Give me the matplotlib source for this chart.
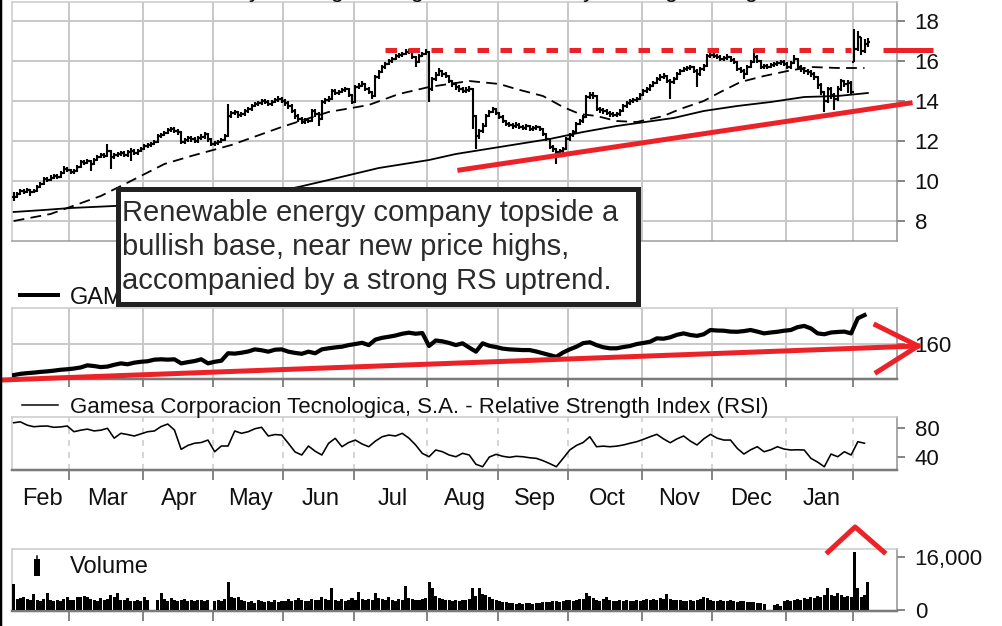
import matplotlib
matplotlib.use("Agg")
import matplotlib.pyplot as plt
import matplotlib.transforms as mtransforms
from matplotlib.lines import Line2D
from matplotlib.patches import Rectangle
import numpy as np

# ---------------- data ----------------
months = ["Feb", "Mar", "Apr", "May", "Jun", "Jul", "Aug", "Sep", "Oct", "Nov", "Dec", "Jan"]
month_starts = [0, 17, 39, 60, 81, 102, 124, 145, 166, 188, 209, 231, 251]  # trading-day index of month starts

closes = [
    9.2, 9.35, 9.5, 9.45, 9.55, 9.45, 9.5, 9.7, 9.85, 10.1,
    10.05, 10.15, 10.25, 10.2, 10.4, 10.6, 10.55, 10.45, 10.5, 10.7,
    10.95, 10.9, 11.0, 10.85, 11.05, 11.2, 11.3, 11.25, 11.5, 11.2,
    11.3, 11.35, 11.4, 11.3, 11.45, 11.5, 11.4, 11.5, 11.6, 11.75,
    11.8, 11.85, 11.95, 12.25, 12.3, 12.4, 12.55, 12.6, 12.5, 12.45,
    11.95, 12.05, 12.15, 12.1, 12.0, 12.15, 12.2, 12.35, 12.1, 11.85,
    11.9, 11.95, 12.05, 12.25, 13.25, 13.4, 13.45, 13.3, 13.35, 13.5,
    13.6, 13.75, 13.85, 13.9, 14.0, 13.95, 13.85, 13.95, 14.05, 14.1,
    14.0, 13.9, 13.75, 13.5, 13.25, 13.1, 12.95, 13.05, 13.0, 13.5,
    13.35, 13.1, 13.95, 14.05, 14.1, 14.5, 14.4, 14.45, 14.55, 14.6,
    14.3, 13.95, 14.7, 14.75, 14.85, 14.6, 14.45, 14.25, 15.2, 15.45,
    15.7, 15.85, 16.0, 16.1, 16.25, 16.3, 16.35, 16.45, 16.5, 16.2,
    15.95, 16.25, 16.35, 16.45, 14.6, 15.1, 15.3, 15.5, 15.35, 15.25,
    15.0, 14.85, 14.7, 14.6, 14.5, 14.55, 14.6, 13.25, 12.25, 12.5,
    12.75, 13.25, 13.45, 13.6, 13.4, 13.2, 13.0, 12.85, 12.8, 12.75,
    12.8, 12.7, 12.65, 12.75, 12.6, 12.65, 12.7, 12.6, 12.35, 12.1,
    11.7, 11.6, 11.45, 11.5, 11.6, 12.1, 12.3, 12.45, 12.85, 13.0,
    13.2, 14.2, 14.3, 14.25, 13.6, 13.55, 13.5, 13.4, 13.35, 13.3,
    13.35, 13.5, 13.75, 13.9, 14.0, 14.05, 14.1, 14.3, 14.5, 14.6,
    14.75, 14.9, 15.1, 15.2, 15.25, 15.0, 14.95, 15.1, 15.35, 15.5,
    15.6, 15.65, 15.7, 15.5, 15.35, 15.6, 15.75, 16.25, 16.3, 16.25,
    16.2, 16.1, 16.15, 16.2, 16.05, 15.95, 15.6, 15.5, 15.35, 15.7,
    15.95, 16.2, 16.0, 15.7, 15.75, 15.7, 15.8, 15.85, 15.9, 15.95,
    15.85, 15.7, 15.9, 16.1, 15.7, 15.6, 15.5, 15.45, 15.35, 15.2,
    14.8, 14.45, 14.0, 14.6, 14.3, 14.1, 14.6, 15.0, 14.85, 14.9,
    14.45, 16.6, 17.2, 16.5, 16.85, 16.95]

highs = [
    9.45, 9.45, 9.6, 9.6, 9.65, 9.6, 9.6, 9.8, 9.95, 10.2,
    10.2, 10.3, 10.35, 10.35, 10.5, 10.75, 10.7, 10.6, 10.6, 10.8,
    11.05, 11.05, 11.1, 11.05, 11.15, 11.3, 11.4, 11.4, 11.85, 11.55,
    11.4, 11.45, 11.5, 11.5, 11.55, 11.65, 11.6, 11.6, 11.7, 11.85,
    11.9, 11.95, 12.05, 12.35, 12.4, 12.5, 12.65, 12.7, 12.7, 12.6,
    12.5, 12.15, 12.25, 12.25, 12.2, 12.25, 12.35, 12.45, 12.4, 12.15,
    12.0, 12.05, 12.15, 12.35, 13.85, 13.5, 13.55, 13.5, 13.45, 13.6,
    13.7, 13.85, 13.95, 14.0, 14.1, 14.1, 14.05, 14.05, 14.15, 14.25,
    14.2, 14.1, 14.0, 13.85, 13.6, 13.35, 13.2, 13.15, 13.15, 13.6,
    13.6, 13.45, 14.05, 14.15, 14.25, 14.6, 14.6, 14.55, 14.65, 14.7,
    14.65, 14.35, 14.8, 14.9, 15.0, 14.9, 14.7, 14.5, 15.3, 15.55,
    15.8, 15.95, 16.1, 16.2, 16.35, 16.4, 16.45, 16.6, 16.6, 16.55,
    16.25, 16.35, 16.45, 16.6, 16.5, 15.2, 15.45, 15.65, 15.55, 15.45,
    15.3, 15.05, 14.95, 14.8, 14.7, 14.7, 14.75, 14.65, 13.3, 12.6,
    12.9, 13.35, 13.55, 13.7, 13.65, 13.45, 13.3, 13.05, 12.95, 12.9,
    12.95, 12.9, 12.8, 12.85, 12.8, 12.75, 12.8, 12.75, 12.65, 12.4,
    12.15, 11.8, 11.65, 11.6, 11.7, 12.2, 12.4, 12.55, 12.95, 13.1,
    13.3, 14.3, 14.45, 14.45, 14.3, 13.7, 13.65, 13.6, 13.5, 13.45,
    13.45, 13.6, 13.85, 14.0, 14.1, 14.15, 14.2, 14.4, 14.6, 14.7,
    14.85, 15.0, 15.2, 15.35, 15.4, 15.3, 15.1, 15.2, 15.45, 15.6,
    15.7, 15.75, 15.8, 15.75, 15.6, 15.7, 15.85, 16.35, 16.45, 16.4,
    16.35, 16.3, 16.25, 16.35, 16.25, 16.15, 16.0, 15.7, 15.6, 15.8,
    16.05, 16.6, 16.3, 16.05, 15.85, 15.85, 15.9, 15.95, 16.0, 16.05,
    16.05, 15.95, 16.0, 16.3, 16.15, 15.8, 15.7, 15.6, 15.55, 15.45,
    15.25, 14.9, 14.5, 14.7, 14.7, 14.4, 14.75, 15.1, 15.05, 15.05,
    15.0, 17.6, 17.5, 17.2, 17.1, 17.15]

lows = [
    9.0, 9.15, 9.3, 9.35, 9.4, 9.25, 9.4, 9.45, 9.65, 9.8,
    9.95, 10.0, 10.1, 10.1, 10.15, 10.35, 10.45, 10.35, 10.35, 10.45,
    10.65, 10.8, 10.85, 10.5, 10.8, 11.0, 11.15, 11.15, 11.2, 10.6,
    11.1, 11.2, 11.25, 11.2, 11.2, 11.0, 11.3, 11.3, 11.45, 11.55,
    11.65, 11.7, 11.8, 11.9, 12.15, 12.25, 12.35, 12.45, 12.4, 12.3,
    11.85, 11.85, 11.95, 11.95, 11.9, 11.9, 12.05, 12.1, 11.95, 11.75,
    11.75, 11.8, 11.9, 12.0, 12.2, 13.15, 13.3, 13.15, 13.2, 13.25,
    13.4, 13.5, 13.7, 13.75, 13.8, 13.85, 13.75, 13.75, 13.9, 13.95,
    13.9, 13.75, 13.6, 13.4, 13.1, 12.95, 12.85, 12.85, 12.9, 12.95,
    13.2, 12.75, 13.05, 13.85, 13.95, 14.05, 14.3, 14.3, 14.4, 14.45,
    14.2, 13.85, 13.9, 14.6, 14.7, 14.5, 14.35, 14.1, 14.2, 15.1,
    15.4, 15.6, 15.8, 15.9, 16.05, 16.15, 16.2, 16.3, 16.35, 16.1,
    15.7, 15.9, 16.2, 16.3, 13.95, 14.5, 15.0, 15.25, 15.2, 15.15,
    14.9, 14.7, 14.55, 14.45, 14.4, 14.4, 14.45, 12.6, 11.6, 12.1,
    12.4, 12.7, 13.2, 13.4, 13.3, 13.1, 12.9, 12.75, 12.7, 12.6,
    12.65, 12.6, 12.55, 12.55, 12.5, 12.5, 12.55, 12.5, 12.25, 12.0,
    11.6, 11.45, 10.85, 11.3, 11.4, 11.55, 12.0, 12.2, 12.4, 12.8,
    12.9, 13.15, 14.1, 14.1, 13.5, 13.4, 13.35, 13.3, 13.2, 13.2,
    13.2, 13.25, 13.45, 13.65, 13.8, 13.9, 13.95, 14.05, 14.25, 14.4,
    14.5, 14.7, 14.85, 15.0, 15.1, 14.9, 14.1, 14.85, 15.05, 15.3,
    15.45, 15.5, 15.55, 15.4, 14.7, 15.25, 15.5, 15.7, 16.15, 16.15,
    16.1, 16.0, 16.0, 16.05, 15.95, 15.85, 15.5, 15.4, 15.1, 15.3,
    15.65, 15.9, 15.9, 15.6, 15.6, 15.6, 15.65, 15.7, 15.75, 15.8,
    15.75, 15.6, 15.6, 15.85, 15.6, 15.45, 15.35, 15.3, 15.2, 15.05,
    14.6, 14.3, 13.45, 13.9, 14.1, 13.55, 14.0, 14.5, 14.7, 14.4,
    14.35, 15.95, 16.5, 16.3, 16.4, 16.7]

ma50_days = [0, 11, 26, 35, 45, 53, 65, 80, 94, 106, 115, 124, 136, 145, 150, 158,
             164, 169, 174, 180, 186, 194, 199, 206, 211, 217, 224, 231, 238, 246, 254]
ma50 = [8.0, 8.35, 9.25, 10.0, 10.85, 11.25, 11.8, 12.7, 13.45, 13.8, 14.35, 14.7, 15.0,
        14.85, 14.6, 14.25, 13.7, 13.35, 13.25, 13.0, 12.95, 13.25, 13.6, 14.0, 14.45,
        14.95, 15.25, 15.5, 15.7, 15.65, 15.65]
ma200_days = [0, 9, 17, 30, 50, 70, 85, 94, 109, 124, 132, 160, 170, 180, 197, 206, 216,
              226, 236, 246, 255]
ma200 = [8.45, 8.55, 8.65, 8.75, 8.9, 9.2, 9.7, 10.05, 10.65, 11.05, 11.35, 12.1, 12.45,
         12.75, 13.15, 13.5, 13.75, 13.95, 14.2, 14.25, 14.4]

rs_days = list(range(0, 256, 2))
rs = [142.5, 143.2, 143.6, 143.9, 144.3, 144.6, 145.0, 145.5, 145.8, 146.2,
      146.8, 148.0, 147.6, 147.0, 147.3, 148.3, 149.1, 148.6, 149.5, 150.0,
      150.3, 151.2, 151.4, 151.2, 151.4, 149.1, 149.8, 150.4, 151.4, 149.1,
      150.0, 150.6, 154.8, 154.6, 155.1, 155.8, 157.0, 156.5, 155.7, 156.8,
      157.0, 155.7, 155.0, 154.5, 155.7, 154.8, 157.0, 157.6, 158.1, 158.5,
      159.4, 160.0, 160.7, 159.4, 162.5, 163.5, 164.1, 164.8, 165.8, 166.4,
      165.8, 166.2, 158.9, 162.0, 161.5, 160.6, 159.4, 160.4, 158.0, 155.7,
      160.4, 159.0, 158.3, 157.4, 157.0, 156.8, 156.6, 156.6, 155.8, 154.8,
      153.8, 152.8, 155.2, 157.0, 158.5, 160.5, 161.0, 159.4, 158.2, 157.6,
      157.6, 158.3, 158.9, 160.0, 160.6, 161.3, 163.2, 163.0, 163.8, 165.2,
      166.0, 165.1, 164.6, 165.5, 167.9, 167.6, 167.5, 167.0, 166.9, 167.3,
      167.9, 167.0, 166.0, 166.5, 166.9, 167.5, 167.9, 169.5, 170.2, 168.8,
      166.0, 165.5, 166.5, 166.8, 167.0, 166.0, 174.5, 176.3]

rsi_days = list(range(0, 256, 2))
rsi = [87.3, 88.5, 84.0, 81.8, 82.5, 82.8, 81.0, 81.5, 82.8, 74.9,
       77.0, 78.5, 76.0, 77.0, 79.6, 66.0, 72.7, 71.0, 69.0, 72.0,
       74.9, 75.9, 82.0, 85.5, 77.2, 50.6, 56.0, 59.0, 60.0, 63.4,
       47.3, 55.2, 55.2, 75.9, 72.7, 74.9, 79.0, 81.0, 69.0, 71.0,
       70.3, 58.9, 47.0, 42.8, 55.2, 48.0, 42.8, 58.9, 65.8, 54.2,
       60.0, 63.4, 58.0, 54.2, 62.0, 68.0, 70.3, 69.0, 72.7, 66.0,
       56.6, 45.0, 40.4, 49.7, 47.3, 42.8, 40.4, 45.1, 42.8, 30.0,
       26.6, 40.0, 43.7, 41.0, 39.6, 41.0, 40.4, 39.0, 38.2, 35.0,
       31.0, 26.6, 38.0, 49.7, 56.0, 60.0, 68.0, 54.2, 55.0, 54.2,
       55.0, 56.6, 59.0, 61.1, 64.4, 68.0, 71.3, 65.0, 59.7, 65.0,
       69.0, 62.0, 56.6, 65.0, 71.3, 66.0, 63.4, 63.4, 52.0, 44.1,
       50.0, 54.2, 47.3, 50.0, 54.2, 51.0, 49.7, 50.0, 49.7, 38.2,
       33.0, 26.6, 44.1, 40.4, 47.3, 42.8, 61.1, 59.0]

volume = [
    7850, 3200, 3600, 4000, 3300, 3000, 4800, 3100, 2800, 3400,
    5200, 2900, 2600, 3000, 2700, 3300, 4000, 3100, 2900, 4000,
    3800, 4100, 3900, 3200, 3000, 2800, 3500, 3000, 3300, 4500,
    3800, 5200, 3000, 2900, 3700, 2800, 2700, 3100, 2600, 4000,
    2900, 0, 0, 3100, 5200, 3300, 2800, 3600, 3100, 2600,
    2900, 3300, 2700, 3000, 2800, 2900, 3100, 2800, 3000, 0,
    2600, 2900, 2700, 3300, 8350, 3900, 3500, 4000, 3000, 2600,
    2500, 2800, 2200, 3100, 2600, 2400, 2700, 2300, 2900, 2500,
    2600, 2800, 3300, 2700, 2900, 3700, 3100, 2600, 2800, 3200,
    2900, 3000, 4000, 3200, 3100, 6550, 3000, 2700, 3300, 2800,
    3100, 3600, 2900, 5300, 3400, 3000, 3300, 2900, 5200, 3500,
    3200, 3000, 3800, 3100, 2800, 3300, 3000, 7250, 3600, 3200,
    2900, 3100, 3400, 3600, 8350, 6700, 4200, 3600, 3300, 3000,
    2900, 2700, 3100, 2800, 3000, 2900, 3400, 6550, 4200, 6550,
    4800, 4500, 3800, 3300, 3000, 2600, 2400, 2500, 2200, 2000,
    1900, 2100, 1800, 2000, 2200, 1900, 2100, 2000, 2300, 2400,
    2300, 2600, 2800, 2500, 2700, 2900, 3100, 2700, 3000, 3300,
    3400, 5200, 4200, 3600, 3100, 2800, 3300, 4000, 3000, 2700,
    2600, 2900, 2700, 3100, 2800, 2600, 3000, 2700, 2900, 3200,
    3000, 3300, 3100, 3500, 3400, 4800, 3300, 3000, 2900, 3100,
    2800, 2600, 3000, 2700, 2900, 3200, 4000, 3600, 3100, 2800,
    2700, 2900, 2600, 2800, 3000, 2700, 2500, 2800, 2600, 2400,
    2500, 2300, 2200, 2000, 1800, 0, 0, 1400, 1800, 1200,
    2800, 2900, 2700, 3000, 3300, 2900, 3600, 3200, 3900, 3500,
    4300, 3800, 4500, 6550, 4500, 4200, 5200, 4600, 3800, 4300,
    4000, 17400, 6600, 4000, 4500, 8400]

# annotation marks (in data units of their panels)
resistance_level = 16.55
resistance_days = [110.8, 250.0]
resistance_ext_days = [259.5, 274.4]
support_days = [133.2, 267.6]
support_prices = [10.55, 13.9]
rs_trend_days = [-4.1, 270.0]
rs_trend_vals = [139.7, 158.9]
rs_chevron_days = [257.4, 270.0, 257.7]
rs_chevron_vals = [170.7, 158.9, 144.2]
vol_chevron_days = [243.1, 251.2, 259.8]
vol_chevron_vals = [17500, 25070, 17500]

note_lines = ["Renewable energy company topside a",
              "bullish base, near new price highs,",
              "accompanied by a strong RS uptrend."]

# ---------------- figure ----------------
W, H = 1002, 626
fig = plt.figure(figsize=(W / 100, H / 100), dpi=100)
plt.rcParams['font.family'] = ['Liberation Sans', 'DejaVu Sans']

GRID = '#c9c9c9'
TICKC = '#606060'
DARK = '#7a7a7a'
RED = '#ec2228'
PT = 0.72  # points per pixel


def px_axes(left, top, right, bottom):
    return fig.add_axes([left / W, 1 - bottom / H, (right - left) / W, (bottom - top) / H])


N = len(closes)
days = np.arange(N)
XLIM = (-0.5, 263.7)
bounds = [d - 0.5 for d in month_starts[1:]]


def base_style(ax, ylim, yticks, ylabels):
    ax.set_xlim(*XLIM)
    ax.set_ylim(*ylim)
    ax.yaxis.tick_right()
    ax.set_yticks(yticks)
    ax.set_yticklabels(ylabels)
    ax.tick_params(axis='y', direction='out', length=8 * PT, width=1.5 * PT, color=TICKC,
                   pad=7, labelsize=16, labelcolor='#111111')
    for s in ax.spines.values():
        s.set_color(GRID)
        s.set_linewidth(1.5 * PT)
    ax.spines['right'].set_color('#8f8f8f')
    ax.set_xticks(bounds)
    ax.set_facecolor('white')


# ---- price panel ----
axp = px_axes(12, 2, 897, 241)
base_style(axp, (7, 18.95), [8, 10, 12, 14, 16, 18], ['8', '10', '12', '14', '16', '18'])
axp.tick_params(axis='x', length=0, labelbottom=False)
axp.grid(True, color=GRID, linewidth=2 * PT)
axp.set_axisbelow(True)
axp.spines['bottom'].set_color('#9a9a9a')

opens = np.clip(np.r_[closes[0], closes[:-1]], lows, highs)
BAR_LW = 2.1 * PT
axp.vlines(days, lows, highs, color='black', linewidth=BAR_LW, zorder=3)
axp.hlines(closes, days, days + 0.75, color='black', linewidth=BAR_LW, zorder=3)
axp.hlines(opens, days - 0.75, days, color='black', linewidth=BAR_LW, zorder=3)
axp.plot(ma50_days, ma50, color='black', linewidth=1.8 * PT, linestyle=(0, (6, 3.5)), zorder=3)
axp.plot(ma200_days, ma200, color='black', linewidth=1.8 * PT, zorder=3)
axp.plot(resistance_days, [resistance_level] * 2, color=RED, linewidth=5 * PT,
         linestyle=(0, (2.3, 2.3)), zorder=4, solid_capstyle='butt', dash_capstyle='butt')
axp.plot(resistance_ext_days, [resistance_level] * 2, color=RED, linewidth=5 * PT,
         zorder=4, clip_on=False, solid_capstyle='butt')
axp.plot(support_days, support_prices, color=RED, linewidth=5 * PT, zorder=4, clip_on=False)

# legend entries of the price panel (mostly above the visible area)
fig.text(186 / W, 1 + 2.5 / H, "50 Day Moving Average", fontsize=17, va='baseline', color='#111')
fig.text(507 / W, 1 + 2.5 / H, "200 Day Moving Average", fontsize=17, va='baseline', color='#111')

# ---- relative strength panel ----
axr = px_axes(12, 308, 897, 379)
base_style(axr, (140.3, 180.3), [160], ['160'])
axr.grid(True, color=GRID, linewidth=2 * PT)
axr.set_axisbelow(True)
axr.spines['bottom'].set_color(DARK)
axr.spines['bottom'].set_linewidth(2.5 * PT)
axr.tick_params(axis='x', direction='out', length=8 * PT, width=1.5 * PT, color=TICKC,
                labelbottom=False)
axr.plot(rs_days, rs, color='black', linewidth=4.2 * PT, zorder=3, solid_joinstyle='round')
axr.plot(rs_trend_days, rs_trend_vals, color=RED, linewidth=5 * PT, zorder=4, clip_on=False)
axr.plot(rs_chevron_days, rs_chevron_vals, color=RED, linewidth=5 * PT, zorder=4, clip_on=False)

fig.add_artist(Line2D([20 / W, 58 / W], [1 - 295 / H] * 2, color='black', linewidth=4 * PT))
fig.text(70 / W, 1 - 304 / H, "GAMESA", fontsize=17, va='baseline', color='#111', zorder=0.5)

# ---- RSI panel ----
axi = px_axes(12, 417, 897, 470)
base_style(axi, (22.1, 95.2), [40, 80], ['40', '80'])
axi.grid(True, axis='x', color=GRID, linewidth=1.5 * PT, linestyle=(0, (4, 4)))
axi.set_axisbelow(True)
axi.spines['bottom'].set_color(DARK)
axi.spines['bottom'].set_linewidth(2.5 * PT)
axi.tick_params(axis='x', direction='out', length=10 * PT, width=1.5 * PT, color=TICKC,
                labelbottom=False)
axi.plot(rsi_days, rsi, color='black', linewidth=1.6 * PT, zorder=3)

fig.add_artist(Line2D([22 / W, 58 / W], [1 - 405 / H] * 2, color='black', linewidth=1.5 * PT))
fig.text(70 / W, 1 - 413 / H,
         "Gamesa Corporacion Tecnologica, S.A. - Relative Strength Index (RSI)",
         fontsize=16, va='baseline', color='#111')

trans = mtransforms.blended_transform_factory(axi.transData, fig.transFigure)
for k, name in enumerate(months):
    mid = (max(month_starts[k] - 0.5, XLIM[0]) + month_starts[k + 1] - 0.5) / 2 + 0.6
    axi.text(mid, 1 - 505 / H, name, transform=trans, ha='center', va='baseline',
             fontsize=17, color='#111')

# ---- volume panel ----
axv = px_axes(12, 549, 897, 611)
base_style(axv, (-300, 18420), [0, 16000], ['0', '16,000'])
axv.spines['bottom'].set_color(DARK)
axv.spines['bottom'].set_linewidth(2.5 * PT)
axv.tick_params(axis='x', direction='out', length=10 * PT, width=1.5 * PT, color=TICKC,
                labelbottom=False)
axv.bar(days, volume, width=0.9, color='black', linewidth=0, zorder=3)
axv.plot(vol_chevron_days, vol_chevron_vals, color=RED, linewidth=5 * PT, zorder=4, clip_on=False)

fig.add_artist(Line2D([37 / W, 37 / W], [1 - 556 / H, 1 - 573 / H], color='black', linewidth=1.5 * PT))
fig.add_artist(Line2D([37 / W, 37 / W], [1 - 562 / H, 1 - 573 / H], color='black', linewidth=6 * PT))
fig.text(70 / W, 1 - 573 / H, "Volume", fontsize=17, va='baseline', color='#111')

# ---- annotation box ----
fig.add_artist(Rectangle((117.5 / W, 1 - 303.5 / H), 520 / W, 114 / H, transform=fig.transFigure,
                         facecolor='white', edgecolor='#222222', linewidth=5 * PT, zorder=2))
for k, line in enumerate(note_lines):
    fig.text(122 / W, 1 - (221 + 34 * k) / H, line, fontsize=21, va='baseline',
             color='#2b2b2b', zorder=3)

# left figure border
fig.add_artist(Line2D([1 / W, 1 / W], [0, 1], color='black', linewidth=2.5 * PT, zorder=5))

fig.savefig("out.png", dpi=100)
